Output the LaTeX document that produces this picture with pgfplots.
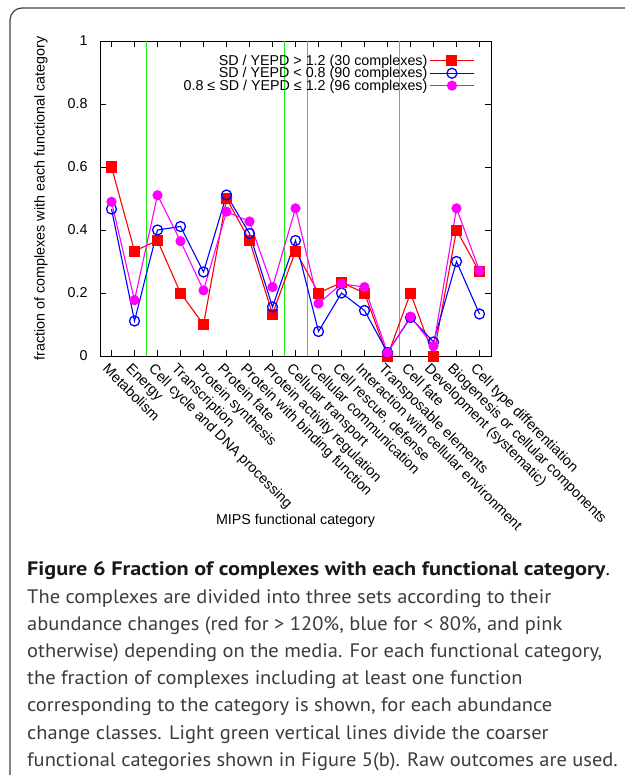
\documentclass[border=0pt]{standalone}
\usepackage{fontspec}
\setmainfont{Liberation Sans}
\newfontfamily\capfont[FakeStretch=1.05, BoldFeatures={FakeStretch=1.14}]{PT Sans}
\usepackage{pgfplots}
\pgfplotsset{compat=1.18}
\definecolor{lgreen}{RGB}{20,240,20}
\definecolor{pmag}{RGB}{255,0,255}
\definecolor{captext}{RGB}{60,60,60}

\begin{document}
\begin{tikzpicture}[x=1pt,y=1pt]
\useasboundingbox (0,0) rectangle (625,-775);
\clip (0,0) rectangle (625,-775);
\draw[black!75, line width=1.2pt, rounded corners=12pt] (10,-8) rectangle (680,-830);

\begin{axis}[
  at={(100pt,-356pt)}, anchor=south west,
  scale only axis, width=391pt, height=315pt,
  xmin=-0.5, xmax=16.5, ymin=0, ymax=1,
  axis line style={line width=0.9pt},
  tick style={black, line width=0.8pt},
  major tick length=6pt,
  tick align=inside,
  xtick={0,...,16},
  xticklabels={Metabolism, Energy, Cell cycle and DNA processing, Transcription,
    Protein synthesis, Protein fate, Protein with binding function,
    Protein activity regulation, Cellular transport, Cellular communication,
    {Cell rescue, defense}, Interaction with cellular environment,
    Transposable elements, Cell fate, Development (systematic),
    Biogenesis or cellular components, Cell type differentiation},
  xticklabel style={rotate=-45, anchor=north west, inner sep=1pt, xshift=2pt, yshift=-5pt,
    font=\fontsize{14.3}{16}\selectfont},
  ytick={0,0.2,0.4,0.6,0.8,1},
  yticklabel style={font=\fontsize{14.3}{16}\selectfont, xshift=-9pt},
  /pgf/number format/assume math mode=true,
  xlabel={MIPS functional category},
  ylabel={fraction of complexes with each functional category},
  label style={font=\fontsize{14.3}{16}\selectfont},
  xlabel style={at={(axis description cs:0.5,-0.524)}, anchor=center},
  ylabel style={at={(axis description cs:-0.151,0.5)}, anchor=center, rotate=0},
  legend style={draw=none, fill=none, at={(rel axis cs:0.966,0.969)}, anchor=north east,
    font=\fontsize{14.3}{16}\selectfont, row sep=-3.5pt},
  legend cell align=right,
  legend plot pos=right,
  legend image code/.code={\draw[mark repeat=2,mark phase=2] plot coordinates {(0pt,0pt) (22pt,0pt) (44pt,0pt)};},
]
\addplot[lgreen, line width=1pt, forget plot] coordinates {(1.5,0) (1.5,1)};
\addplot[lgreen, line width=1pt, forget plot] coordinates {(7.5,0) (7.5,1)};
\addplot[lgreen, line width=1pt, forget plot] coordinates {(8.5,0) (8.5,1)};
\addplot[lgreen, line width=1pt, forget plot] coordinates {(12.5,0) (12.5,1)};

\addplot[red, line width=1.1pt, mark=square*, mark size=5pt, mark options={fill=red, draw=red, line width=0pt}] coordinates {
(0,0.6) (1,0.3333) (2,0.3667) (3,0.2) (4,0.1) (5,0.5) (6,0.3667) (7,0.1333) (8,0.3333)
(9,0.2) (10,0.2333) (11,0.2) (12,0) (13,0.2) (14,0) (15,0.4) (16,0.2667)};
\addlegendentry{SD / YEPD > 1.2 (30 complexes)}

\addplot[blue, line width=1.1pt, mark=o, mark size=5pt, mark options={line width=1.3pt}] coordinates {
(0,0.4667) (1,0.1111) (2,0.4) (3,0.4111) (4,0.2667) (5,0.5111) (6,0.3889) (7,0.1556) (8,0.3667)
(9,0.0778) (10,0.2) (11,0.1444) (12,0.0111) (13,0.1222) (14,0.0444) (15,0.3) (16,0.1333)};
\addlegendentry{SD / YEPD < 0.8 (90 complexes)}

\addplot[pmag, line width=1.1pt, mark=*, mark size=4.5pt, mark options={fill=pmag, draw=pmag}] coordinates {
(0,0.4896) (1,0.1771) (2,0.5104) (3,0.3646) (4,0.2083) (5,0.4583) (6,0.4271) (7,0.2188) (8,0.4688)
(9,0.1667) (10,0.2292) (11,0.2188) (12,0.0104) (13,0.125) (14,0.0313) (15,0.4688) (16,0.2708)};
\addlegendentry{0.8 ≤ SD / YEPD ≤ 1.2 (96 complexes)}
\end{axis}

\begin{scope}[every node/.style={anchor=base west, inner sep=0pt, text=captext,
  font=\capfont\fontsize{19.5}{22}\selectfont}]
\node[text=black!90] at (27,-575) {\bfseries Figure 6 Fraction of complexes with each functional category\mdseries.};
\node at (27,-603) {The complexes are divided into three sets according to their};
\node at (27,-630.2) {abundance changes (red for > 120\%, blue for < 80\%, and pink};
\node at (27,-657.4) {otherwise) depending on the media. For each functional category,};
\node at (27,-684.6) {the fraction of complexes including at least one function};
\node at (27,-711.8) {corresponding to the category is shown, for each abundance};
\node at (27,-739) {change classes. Light green vertical lines divide the coarser};
\node at (27,-766.2) {functional categories shown in Figure 5(b). Raw outcomes are used.};
\end{scope}
\end{tikzpicture}
\end{document}
